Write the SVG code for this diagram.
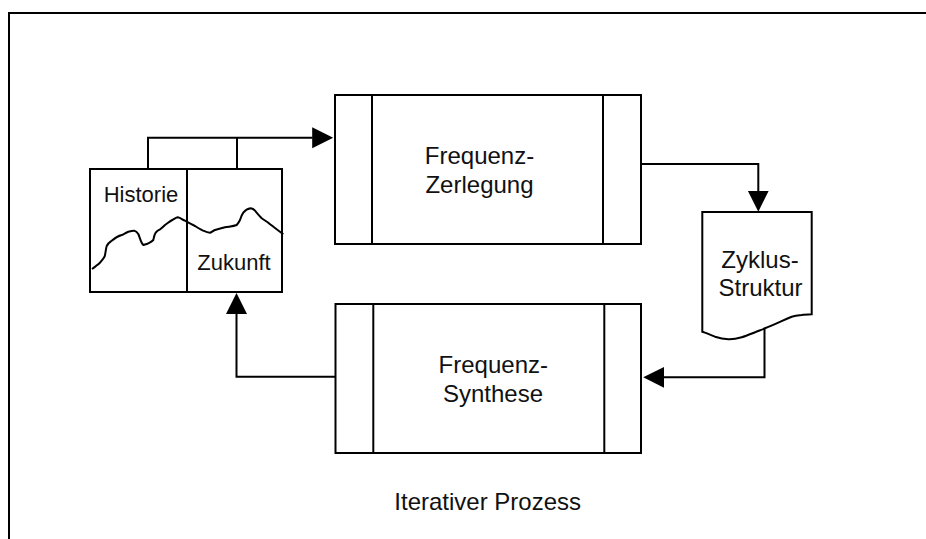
<svg xmlns="http://www.w3.org/2000/svg" width="926" height="539" viewBox="0 0 926 539">
  <style>
    .ln { fill: none; stroke: #000; stroke-width: 2; }
    .bx { fill: #fff; stroke: #000; stroke-width: 2; }
    .t { font-family: "Liberation Sans", Arial, sans-serif; font-size: 24px; fill: #111; text-anchor: middle; }
    .ts { font-family: "Liberation Sans", Arial, sans-serif; font-size: 22px; fill: #111; text-anchor: middle; }
    .cn { fill: none; stroke: #000; stroke-width: 2; marker-end: url(#ah); }
  </style>
  <defs>
    <marker id="ah" markerUnits="userSpaceOnUse" markerWidth="22" markerHeight="22" refX="0.5" refY="10.5" orient="auto" viewBox="0 0 22 21">
      <path d="M0,0 L21,10.5 L0,21 Z" fill="#000"/>
    </marker>
  </defs>
  <rect width="926" height="539" fill="#fff"/>
  <path class="ln" d="M9,539 V13 H926"/>

  <g id="zeitreihe">
    <rect class="bx" x="90" y="169" width="192" height="123"/>
    <line class="ln" x1="187" y1="169" x2="187" y2="292"/>
    <path class="ln" d="M92,269 C96,266 99,264 100,262.7 C103,259 105,257 105,255 C106,250 106,248 106.7,246 C108,243 110,242 111.7,240.7 C115,238 118,236 121.7,235 C124,234 126,232.5 128.3,231.7 C131,231 133,230.5 134.3,230.7 C136,231 137,232 138.3,234 C140,238 141,243 143.3,245 C145,244.5 147,244 148.3,243.3 C150,242.5 152,241.5 153.3,240 C154,237 154.5,234 155.7,232.7 C157,231 158.5,230 160,229.3 C162,228 163.5,226.5 165,225 C168,223 170,221 172.3,220 C174.5,219 176,217.5 177.7,217.3 C179,217.5 181,218.5 182.3,219.3 C184,220.3 185.5,221 186.7,221.7 C190,223.5 192,224.5 195,226 C198,228 201,229.5 203.3,230.7 C206,232 208,232.7 210,232.7 C212,232 213,230.7 215,230 C219,228.8 222,228 225,227.3 C229,226.5 233,226.5 236.7,225 C238,223.5 239,222 240,220 C241,217 242,214.5 243.3,212.7 C245,210.5 248,208.7 250.7,208.3 C252.5,208.5 254,209.5 255,210.7 C257,213 259.5,216 261.7,218.3 C264,220 266,221 268.3,222.7 C271,225 274,227 276.7,229.3 C279,231 281.5,232.8 283.3,234.3"/>
    <text class="ts" x="141" y="201.5">Historie</text>
    <text class="ts" x="234" y="270">Zukunft</text>
  </g>

  <g id="zerlegung">
    <rect class="bx" x="335" y="95" width="306" height="149"/>
    <line class="ln" x1="372" y1="95" x2="372" y2="244"/>
    <line class="ln" x1="603" y1="95" x2="603" y2="244"/>
    <text class="t" x="479.5" y="164">Frequenz-</text>
    <text class="t" x="479.5" y="193">Zerlegung</text>
  </g>

  <g id="zyklus">
    <path class="bx" d="M702.3,212 H811.7 V314.3 C807,314.5 804,314.7 801.7,315 C797,315.5 794,316 791.7,316.7 C786,319 782,321 778.3,322.7 C773,325 769,326.7 765,328.3 C761,330 758,331 755,332.3 C750,334.3 746,336 741.7,337.3 C737,338.7 733,339.5 728.3,339.3 C723,339 719,338 715,336.7 C711,335 707,333.5 702.3,331.7 Z"/>
    <text class="t" x="760" y="268">Zyklus-</text>
    <text class="t" x="760.5" y="295.5">Struktur</text>
  </g>

  <g id="synthese">
    <rect class="bx" x="335.5" y="304" width="305.5" height="149"/>
    <line class="ln" x1="373.3" y1="304" x2="373.3" y2="453"/>
    <line class="ln" x1="604.3" y1="304" x2="604.3" y2="453"/>
    <text class="t" x="493.3" y="373">Frequenz-</text>
    <text class="t" x="493" y="402">Synthese</text>
  </g>

  <g id="connectors">
    <line class="ln" x1="237" y1="169" x2="237" y2="137.7"/>
    <path class="cn" d="M148,169 V137.7 H312.7"/>
    <path class="cn" d="M641,164 H758.3 V191.2"/>
    <path class="cn" d="M764.5,329 V377.3 H663.7"/>
    <path class="cn" d="M335.5,376.7 H236.5 V313.5"/>
  </g>

  <text class="t" x="487.7" y="510">Iterativer Prozess</text>
</svg>
